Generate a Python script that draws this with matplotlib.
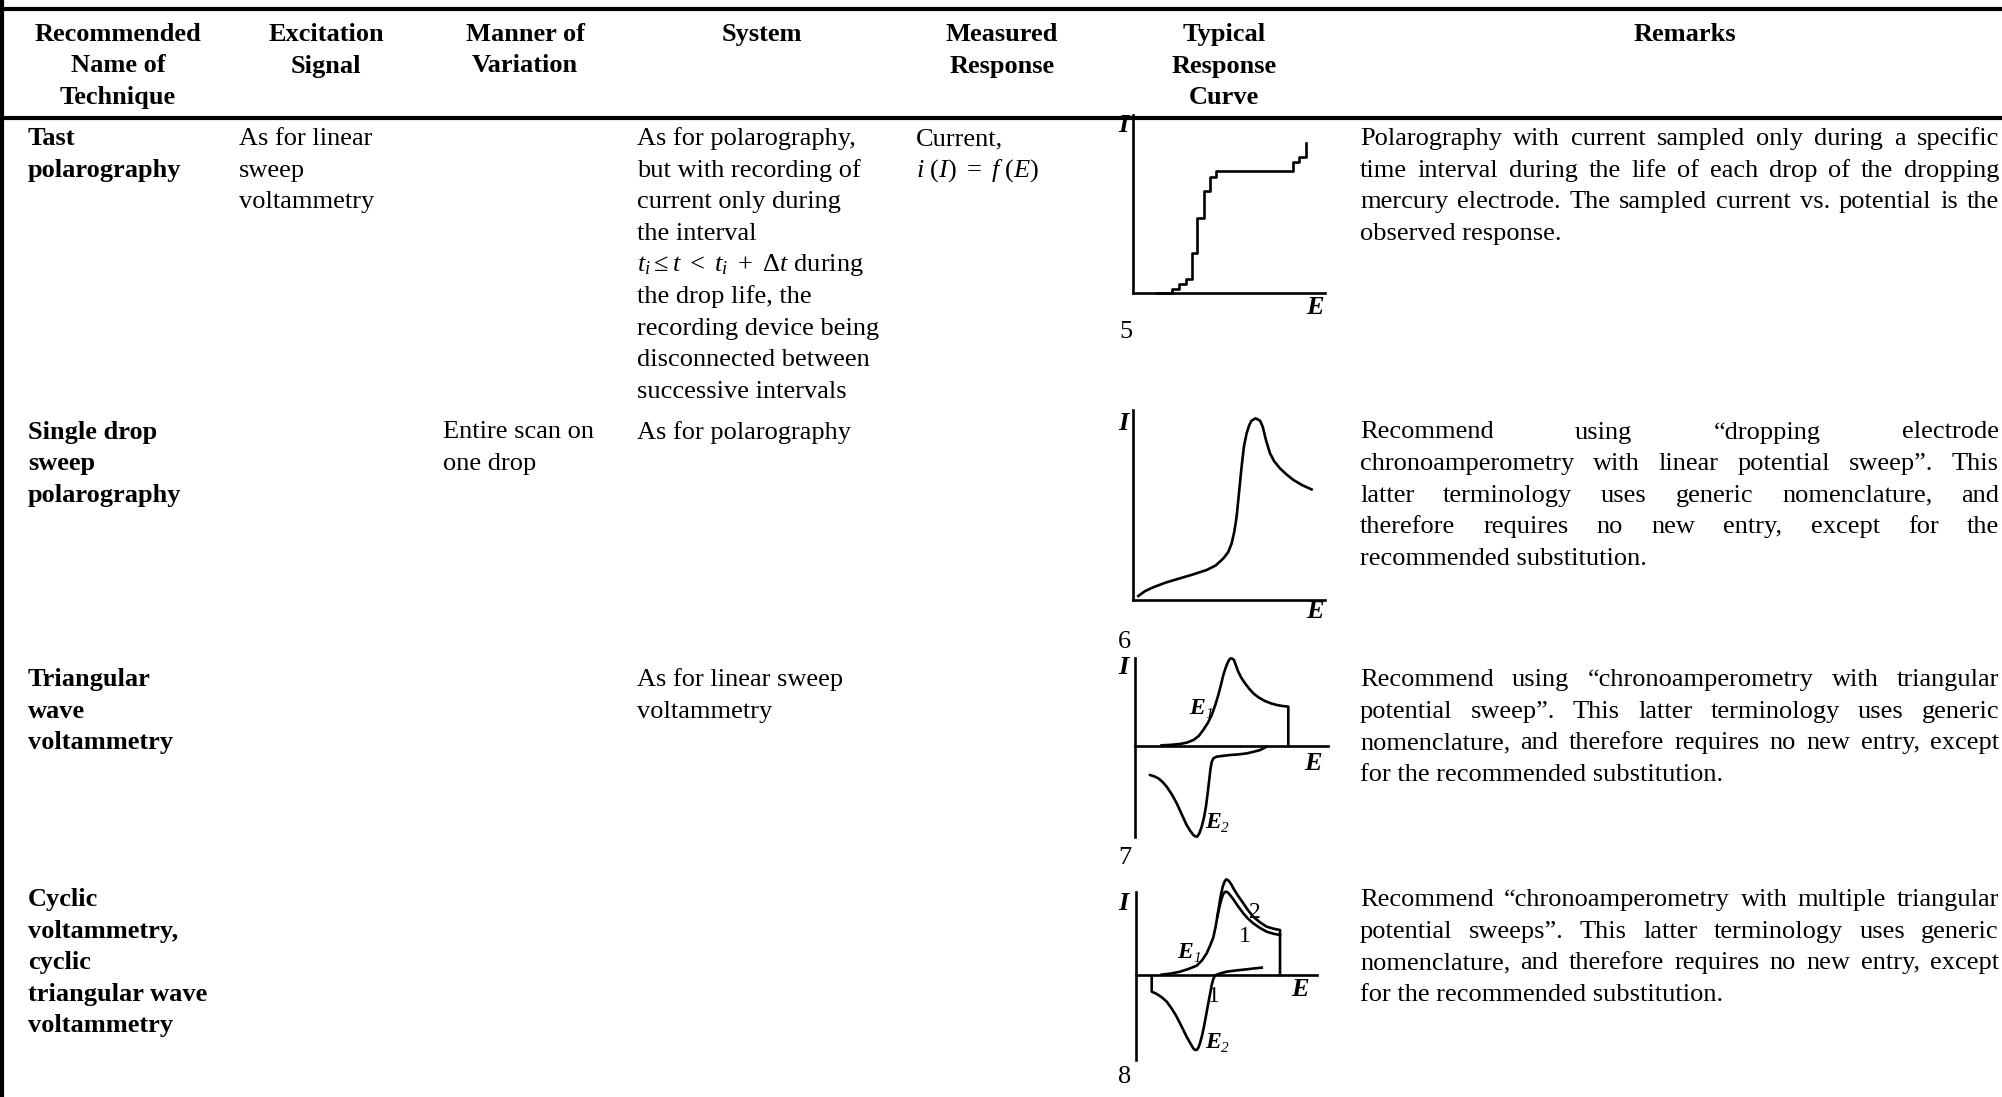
import matplotlib
matplotlib.use('Agg')
import matplotlib.pyplot as plt

plt.rcParams['font.family'] = ['Liberation Serif', 'DejaVu Serif']
plt.rcParams['mathtext.fontset'] = 'custom'
plt.rcParams['mathtext.rm'] = 'Liberation Serif'
plt.rcParams['mathtext.it'] = 'Liberation Serif:italic'
plt.rcParams['mathtext.bf'] = 'Liberation Serif:bold'

W, H = 2002, 1097
FS = 19
LS = 31.6

# ---- table text ----
headers = [["Recommended", "Name of", "Technique"],
           ["Excitation", "Signal"],
           ["Manner of", "Variation"],
           ["System"],
           ["Measured", "Response"],
           ["Typical", "Response", "Curve"],
           ["Remarks"]]

names = [["Tast", "polarography"],
         ["Single drop", "sweep", "polarography"],
         ["Triangular", "wave", "voltammetry"],
         ["Cyclic", "voltammetry,", "cyclic", "triangular wave", "voltammetry"]]
excitation = [["As for linear", "sweep", "voltammetry"], [], [], []]
variation = [[], ["Entire scan on", "one drop"], [], []]
system = [["As for polarography,", "but with recording of", "current only during",
           "the interval", r"$t_i \leq t\ <\ t_i\ +\ \Delta t$ during",
           "the drop life, the", "recording device being",
           "disconnected between", "successive intervals"],
          ["As for polarography"],
          ["As for linear sweep", "voltammetry"],
          []]
measured = [["Current,", r"$i\ (I)\ =\ f\ (E)$"], [], [], []]
remarks = [["Polarography with current sampled only during a specific",
            "time interval during the life of each drop of the dropping",
            "mercury electrode. The sampled current vs. potential is the",
            "observed response."],
           ["Recommend using \u201cdropping electrode",
            "chronoamperometry with linear potential sweep\u201d. This",
            "latter terminology uses generic nomenclature, and",
            "therefore requires no new entry, except for the",
            "recommended substitution."],
           ["Recommend using \u201cchronoamperometry with triangular",
            "potential sweep\u201d. This latter terminology uses generic",
            "nomenclature, and therefore requires no new entry, except",
            "for the recommended substitution."],
           ["Recommend \u201cchronoamperometry with multiple triangular",
            "potential sweeps\u201d. This latter terminology uses generic",
            "nomenclature, and therefore requires no new entry, except",
            "for the recommended substitution."]]
curve_numbers = ["5", "6", "7", "8"]

# ---- response curves (E, I in relative units) ----
tast_E = [12.2, 20.0, 24.0, 27.5, 30.4, 33.0, 36.9, 40.0, 43.1, 83.1, 86.6, 90.1]
tast_I = [0.4, 2.2, 5.2, 8.0, 22.8, 42.4, 57.6, 65.4, 68.8, 73.8, 76.6, 84.5]

sd_E = [2.6, 6.0, 10.4, 17.0, 24.3, 31.0, 38.3, 43.0, 47.0, 49.5, 51.3, 52.7,
        53.9, 55.2, 56.5, 57.7, 59.1, 60.5, 61.7, 63.8, 66.1, 67.5, 69.2, 71.3,
        73.5, 76.5, 80.0, 83.5, 88.0, 93.0]
sd_I = [2.1, 4.6, 6.7, 9.2, 11.4, 13.4, 15.8, 18.2, 21.9, 25.2, 29.8, 36.0,
        43.9, 57.0, 70.2, 80.7, 87.7, 92.1, 94.4, 95.6, 94.4, 91.2, 84.2, 77.2,
        73.0, 69.3, 66.0, 63.2, 60.5, 58.2]

tri_fwd_E = [13.8, 18.5, 23.3, 27.0, 30.2, 33.0, 35.3, 37.6, 39.7, 41.5, 43.1,
             44.5, 45.7, 46.8, 47.8, 48.7, 49.5, 50.4, 51.2, 52.2, 53.4, 55.0,
             56.9, 59.0, 61.2, 64.0, 67.2, 70.2, 73.3, 76.3, 79.3, 79.3]
tri_fwd_I = [0.8, 1.3, 2.3, 4.0, 6.8, 11.5, 18.3, 26.0, 35.4, 46.5, 58.2,
             70.0, 81.0, 88.5, 94.3, 98.3, 100, 99.5, 98.1, 92.0, 84.8, 77.8,
             71.5, 65.5, 60.1, 55.3, 51.3, 48.7, 46.8, 45.6, 44.9, 0]
tri_rev_E = [68.1, 64.7, 61.0, 57.8, 53.5, 49.1, 45.5, 42.2, 40.6, 39.7, 39.0,
             38.4, 37.6, 36.7, 35.7, 34.5, 33.3, 32.2, 31.2, 30.2, 28.5, 26.7,
             24.2, 21.6, 19.0, 16.4, 14.2, 12.1, 10.0, 7.8]
tri_rev_I = [-0.8, -4.6, -6.8, -8.4, -9.6, -10.3, -11.2, -12.2, -14.0, -17.9,
             -27.0, -38.8, -53.5, -69.2, -81.5, -92.0, -99.5, -103.4, -103.0,
             -101.5, -96.5, -90.1, -78.0, -65.4, -55.0, -46.4, -40.8, -36.9,
             -34.6, -33.1]

cyc2_E = [14.2, 19.5, 24.4, 29.0, 33.6, 36.5, 39.1, 41.0, 42.8, 44.0, 45.0,
          45.8, 46.5, 47.2, 48.0, 48.9, 49.8, 50.8, 51.7, 52.8, 53.9, 56.5,
          59.4, 62.0, 64.9, 68.5, 72.3, 76.0, 79.7, 79.7]
cyc2_I = [0.8, 2.2, 4.4, 7.6, 11.6, 17.8, 26.3, 35.5, 45.4, 57.5, 70.1,
          80.5, 90.0, 98.5, 106.0, 111.5, 114.7, 114.0, 112.0, 108.5, 104.0, 95.0,
          86.1, 77.8, 70.1, 63.5, 58.2, 55.8, 54.2, 0]
cyc1_E = [45.0, 46.0, 46.9, 47.6, 48.3, 49.0, 49.6, 50.4, 51.3, 52.5, 53.9,
          56.5, 59.4, 62.0, 64.9, 68.5, 72.3, 76.0, 79.7]
cyc1_I = [70.1, 80.0, 88.0, 93.2, 97.2, 99.3, 100, 99.6, 98.0, 94.8, 90.8,
          82.5, 74.1, 67.8, 62.2, 56.8, 52.2, 49.8, 48.2]
cyc_rev_E = [69.6, 65.5, 61.3, 55.5, 50.2, 46.5, 43.7, 42.7, 41.9, 41.0, 40.0,
             38.8, 37.6, 36.5, 35.4, 34.5, 33.6, 32.6, 31.7, 30.0, 28.0, 25.2,
             22.5, 19.7, 17.0, 14.6, 12.4, 10.5, 8.7, 8.7]
cyc_rev_I = [9.2, 8.3, 7.2, 5.9, 4.4, 2.2, 0, -5.0, -11.6, -22.0, -33.5,
             -47.5, -61.4, -72.5, -81.3, -86.5, -89.2, -89.0, -87.3, -81.0, -73.3,
             -61.0, -49.4, -39.5, -31.5, -26.8, -23.5, -21.2, -19.5, -0.8]

fig = plt.figure(figsize=(W / 100, H / 100), dpi=100)
ax = fig.add_axes([0, 0, 1, 1])
ax.set_xlim(0, W)
ax.set_ylim(H, 0)
ax.axis('off')

# table rules
ax.axhline(9, color='black', lw=3)
ax.axhline(118, color='black', lw=3)
ax.axvline(2, color='black', lw=3)

header_x = [118, 326, 525, 762, 1002, 1224, 1685]
header_y = [41, 72.5, 104]
for hx, lines in zip(header_x, headers):
    for k, line in enumerate(lines):
        ax.text(hx, header_y[k], line, ha='center', va='baseline',
                fontsize=FS, fontweight='bold')

row_y = [145, 438.5, 686, 906]
col_x = [28, 239, 443, 637, 916]
for r in range(4):
    cols = [names[r], excitation[r], variation[r], system[r], measured[r]]
    for c, lines in enumerate(cols):
        for k, line in enumerate(lines):
            ax.text(col_x[c], row_y[r] + k * LS, line, ha='left', va='baseline',
                    fontsize=FS, fontweight='bold' if c == 0 else 'normal')

# justified remarks
renderer = fig.canvas.get_renderer()
x0, x1 = 1360, 1999
for r in range(4):
    lines = remarks[r]
    for k, line in enumerate(lines):
        y = row_y[r] + k * LS
        words = line.split()
        if k == len(lines) - 1:
            ax.text(x0, y, line, ha='left', va='baseline', fontsize=FS)
            continue
        texts = [ax.text(0, y, w, ha='left', va='baseline', fontsize=FS) for w in words]
        widths = [t.get_window_extent(renderer).width for t in texts]
        gap = (x1 - x0 - sum(widths)) / (len(words) - 1)
        x = x0
        for t, w in zip(texts, widths):
            t.set_x(x)
            x += w + gap


def curve_axes(xl, xr, ytop, ybot, ylim):
    a = fig.add_axes([xl / W, 1 - ybot / H, (xr - xl) / W, (ybot - ytop) / H])
    a.set_xlim(0, 100)
    a.set_ylim(*ylim)
    a.patch.set_visible(False)
    a.set_xticks([])
    a.set_yticks([])
    for s in ['top', 'right']:
        a.spines[s].set_visible(False)
    a.spines['left'].set_linewidth(1.9)
    a.spines['bottom'].set_linewidth(1.9)
    a.spines['bottom'].set_position(('data', 0))
    return a


lw = 1.9
a1 = curve_axes(1133.3, 1325, 115, 293.3, (0, 100))
a1.step(tast_E, tast_I, where='post', color='black', lw=lw, clip_on=False)

a2 = curve_axes(1133.3, 1325, 410, 600, (0, 100))
a2.plot(sd_E, sd_I, color='black', lw=lw, clip_on=False)

a3 = curve_axes(1135, 1328.3, 658.3, 836.7, (-103.4, 100))
a3.plot(tri_fwd_E, tri_fwd_I, color='black', lw=lw, clip_on=False)
a3.plot(tri_rev_E, tri_rev_I, color='black', lw=lw, clip_on=False)

a4 = curve_axes(1136, 1316.7, 891.7, 1060, (-101.2, 100))
a4.plot(cyc2_E, cyc2_I, color='black', lw=lw, clip_on=False)
a4.plot(cyc1_E, cyc1_I, color='black', lw=lw, clip_on=False)
a4.plot(cyc_rev_E, cyc_rev_I, color='black', lw=lw, clip_on=False)

# axis letters and curve numbers
lab = dict(fontsize=19, fontweight='bold', style='italic', ha='center', va='center')
for (ix, iy), (ex, ey) in [((1123, 126), (1315, 307)), ((1123, 423), (1315, 612)),
                           ((1123, 667), (1313, 763)), ((1123, 903), (1300, 990))]:
    ax.text(ix, iy, "I", **lab)
    ax.text(ex, ey, "E", **lab)

for num, (nx, ny) in zip(curve_numbers, [(1126, 332), (1124, 642), (1125, 858), (1125, 1077)]):
    ax.text(nx, ny, num, fontsize=19, ha='center', va='center')

sub = dict(fontsize=11, style='italic', ha='center', va='center')
for (ex, ey), s in [((1197, 708), "1"), ((1213, 822), "2"),
                    ((1185, 952), "1"), ((1213, 1042), "2")]:
    ax.text(ex, ey, "E", fontsize=17, fontweight='bold', style='italic',
            ha='center', va='center')
    ax.text(ex + 12, ey + 6, s, **sub)

for (nx, ny), s in [((1255, 912), "2"), ((1245, 937), "1"), ((1214, 997), "1")]:
    ax.text(nx, ny, s, fontsize=17, ha='center', va='center')

fig.savefig('out.png', dpi=100)
